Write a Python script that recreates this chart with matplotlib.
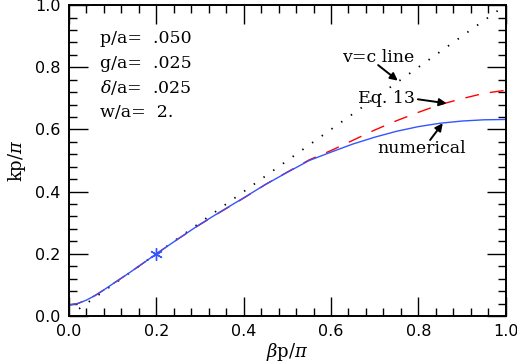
import numpy as np
import matplotlib
matplotlib.use('Agg')
import matplotlib.pyplot as plt
from matplotlib.ticker import MultipleLocator

# numerical dispersion curve
beta = [0.0, 0.02, 0.04, 0.06, 0.08, 0.10, 0.13, 0.16, 0.20, 0.25, 0.30, 0.35,
        0.40, 0.45, 0.50, 0.55, 0.60, 0.65, 0.70, 0.75, 0.80, 0.85, 0.90, 0.95, 1.0]
k_num = [0.035, 0.040, 0.051, 0.066, 0.084, 0.103, 0.131, 0.160, 0.200, 0.248, 0.295, 0.338,
         0.380, 0.423, 0.462, 0.500, 0.527, 0.553, 0.575, 0.594, 0.609, 0.620, 0.627, 0.631, 0.632]
# Eq. 13
k_eq13 = [0.035, 0.040, 0.051, 0.066, 0.084, 0.103, 0.131, 0.160, 0.200, 0.248, 0.294, 0.337,
          0.379, 0.423, 0.463, 0.502, 0.532, 0.565, 0.598, 0.628, 0.655, 0.680, 0.699, 0.716, 0.726]
# v=c line
beta_vc = [0.023, 1.0]
k_vc = [0.023, 1.0]
# marked point
star_x, star_y = 0.2, 0.2

params = ['p/a=  .050', 'g/a=  .025', r'$\delta$/a=  .025', 'w/a=  2.']

plt.rcParams['mathtext.fontset'] = 'dejavuserif'
fig = plt.figure(figsize=(5.17, 3.64), dpi=100)
ax = fig.add_axes([0.1335, 0.132, 0.8445, 0.854])

ax.plot(beta_vc, k_vc, color='black', lw=1.3, linestyle=(0, (0.8, 5.8)))
ax.plot(beta, k_eq13, color='red', lw=1.0, linestyle=(0, (10, 8)))
ax.plot(beta, k_num, color='#3355ff', lw=1.0)
ax.plot([star_x], [star_y], marker=(6, 2, 0), color='#3355ff', ms=9, mew=1.0)

ax.set_xlim(0, 1)
ax.set_ylim(0, 1)
ax.xaxis.set_major_locator(MultipleLocator(0.2))
ax.xaxis.set_minor_locator(MultipleLocator(0.04))
ax.yaxis.set_major_locator(MultipleLocator(0.2))
ax.yaxis.set_minor_locator(MultipleLocator(0.04))
ax.tick_params(which='both', direction='in', top=True, right=True, width=1.0)
ax.tick_params(which='major', length=13.5, pad=6)
ax.tick_params(which='minor', length=6)
for lab in ax.get_xticklabels() + ax.get_yticklabels():
    lab.set_fontsize(11.5)
    lab.set_family('DejaVu Sans')
for s in ax.spines.values():
    s.set_linewidth(1.4)

ax.set_xlabel(r'$\beta$p/$\pi$', family='DejaVu Serif', fontsize=13, labelpad=1)
ax.set_ylabel(r'kp/$\pi$', family='DejaVu Serif', fontsize=13, labelpad=5)

for i, t in enumerate(params):
    ax.text(0.071, 0.892 - i * 0.079, t, family='DejaVu Serif', fontsize=12.5, va='center', ha='left')

# labels and arrows
ax.text(0.708, 0.833, 'v=c line', family='DejaVu Serif', fontsize=12.5, ha='center', va='center')
ax.text(0.728, 0.698, 'Eq. 13', family='DejaVu Serif', fontsize=12.5, ha='center', va='center')
ax.text(0.808, 0.54, 'numerical', family='DejaVu Serif', fontsize=12.5, ha='center', va='center')
arr = dict(arrowstyle='-|>', color='black', lw=1.4, mutation_scale=11, shrinkA=0, shrinkB=0)
ax.annotate('', xy=(0.753, 0.757), xytext=(0.708, 0.807), arrowprops=arr)
ax.annotate('', xy=(0.865, 0.684), xytext=(0.799, 0.697), arrowprops=arr)
ax.annotate('', xy=(0.856, 0.62), xytext=(0.827, 0.566), arrowprops=arr)

fig.savefig('out.png', dpi=100)
